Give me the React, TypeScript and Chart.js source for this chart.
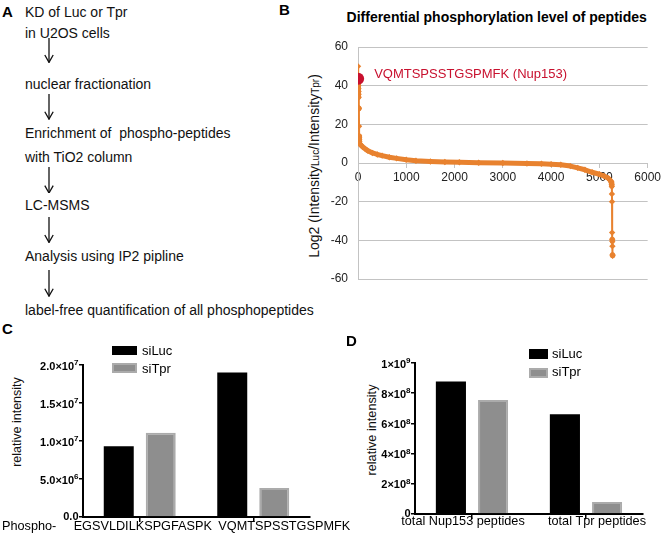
import React, { useEffect, useRef } from 'react';
import { Chart, registerables } from 'chart.js';

Chart.register(...registerables);

const FONT = '"Liberation Sans", Arial, Helvetica, sans-serif';
Chart.defaults.font.family = FONT;

// ---------- Panel A: workflow ----------
const workflowLines = [
  'KD of Luc or Tpr',
  'in U2OS cells',
  'nuclear fractionation',
  'Enrichment of  phospho-peptides',
  'with TiO2 column',
  'LC-MSMS',
  'Analysis using IP2 pipline',
  'label-free quantification of all phosphopeptides',
];

// ---------- Panel B: differential phosphorylation ----------
const bTitle = 'Differential phosphorylation level of peptides';
const peptideRank = [
  1, 3, 5, 7, 9, 11, 13, 15, 17, 19,
  21, 23, 25, 27, 30, 40, 60, 100, 150, 200,
  300, 400, 500, 650, 800, 1000, 1200, 1500, 1800, 2100,
  2500, 3000, 3500, 3800, 4000, 4200, 4400, 4550, 4700, 4850,
  5000, 5100, 5180, 5220, 5245, 5255, 5258, 5260, 5262, 5264,
  5266, 5268, 5270, 5272, 5274,
];
const log2Ratio = [
  50, 43.6, 41, 40, 38.5, 37, 35.5, 34, 28.5, 28,
  19, 14, 13, 12, 11, 10, 9.2, 8.3, 7.3, 6.4,
  5.2, 4.4, 3.8, 3.0, 2.4, 1.7, 1.2, 0.8, 0.5, 0.35,
  0.15, 0, -0.25, -0.4, -0.6, -0.9, -1.6, -2.5, -3.5, -4.8,
  -5.8, -6.8, -7.8, -8.8, -9.8, -11, -12, -16, -20, -36,
  -39.5, -40.5, -43, -47.5, -48,
];
const highlightRank = 3;
const highlightLog2 = 43.6;
const highlightLabel = 'VQMTSPSSTGSPMFK (Nup153)';
const bXTicks = [0, 1000, 2000, 3000, 4000, 5000, 6000];
const bYTicks = [-60, -40, -20, 0, 20, 40, 60];

// ---------- Panels C & D ----------
const seriesNames = ['siLuc', 'siTpr'];

const cPrefix = 'Phospho-';
const cCategories = ['EGSVLDILKSPGFASPK', 'VQMTSPSSTGSPMFK'];
const cSiLuc = [9.3e6, 1.9e7];
const cSiTpr = [1.11e7, 3.8e6];
const cYTicks = [0, 5e6, 1e7, 1.5e7, 2e7];
const cYTickLabels = ['0.0', '5.0×10^6', '1.0×10^7', '1.5×10^7', '2.0×10^7'];

const dCategories = ['total Nup153 peptides', 'total Tpr peptides'];
const dSiLuc = [8.78e8, 6.6e8];
const dSiTpr = [7.55e8, 7.9e7];
const dYTicks = [0, 2e8, 4e8, 6e8, 8e8, 1e9];
const dYTickLabels = ['0', '2×10^8', '4×10^8', '6×10^8', '8×10^8', '1×10^9'];

// ---------- styles ----------
const ORANGE = '#E8822F';
const RED = '#C8102E';
const GRID = '#c3c3c3';
const BLACK_BAR = '#000000';
const GRAY_BAR = '#8e8e8e';
const GRAY_BAR_EDGE = '#ababab';

const highlightLabelPlugin = {
  id: 'highlightLabel',
  afterDatasetsDraw(chart: any) {
    const { x, y } = chart.scales;
    const ctx = chart.ctx;
    ctx.save();
    ctx.font = `13px ${FONT}`;
    ctx.fillStyle = RED;
    ctx.textAlign = 'left';
    ctx.textBaseline = 'middle';
    ctx.fillText(highlightLabel, x.getPixelForValue(highlightRank) + 16, y.getPixelForValue(highlightLog2) - 4);
    ctx.restore();
  },
};

// category labels under bars (with optional prefix at the far left)
const categoryLabelPlugin = {
  id: 'categoryLabels',
  afterDraw(chart: any, _args: any, opts: any) {
    const xs = chart.scales.x;
    const ctx = chart.ctx;
    ctx.save();
    ctx.font = `${opts.size}px ${FONT}`;
    ctx.fillStyle = '#000';
    ctx.textBaseline = 'middle';
    ctx.textAlign = 'center';
    (chart.data.labels as string[]).forEach((lab, i) => {
      ctx.fillText(lab, xs.getPixelForValue(i) + opts.shifts[i], xs.top + opts.dy);
    });
    if (opts.prefix) {
      ctx.textAlign = 'left';
      ctx.fillText(opts.prefix, opts.prefixX, xs.top + opts.dy);
    }
    ctx.restore();
  },
};

// y tick labels with real superscript exponents ("2.0×10^7")
const supTickPlugin = {
  id: 'supTicks',
  afterDraw(chart: any, _args: any, opts: any) {
    const ys = chart.scales.y;
    const ctx = chart.ctx;
    ctx.save();
    ctx.fillStyle = '#000';
    ctx.textAlign = 'right';
    ctx.textBaseline = 'middle';
    const right = ys.right - opts.gap;
    opts.values.forEach((v: number, i: number) => {
      const [base, exp] = String(opts.labels[i]).split('^');
      const py = ys.getPixelForValue(v);
      let x = right;
      if (exp) {
        ctx.font = `bold ${opts.supSize}px ${FONT}`;
        ctx.fillText(exp, x, py - 2);
        x -= ctx.measureText(exp).width;
        ctx.font = `bold ${opts.size}px ${FONT}`;
        ctx.fillText(base, x, py + 1.5);
      } else {
        ctx.font = `bold ${opts.size}px ${FONT}`;
        ctx.fillText(base, x, py);
      }
    });
    ctx.restore();
  },
};

function makeBConfig(): any {
  return {
    type: 'line',
    data: {
      datasets: [
        {
          data: [{ x: highlightRank, y: highlightLog2 }],
          showLine: false,
          pointRadius: 6,
          pointBackgroundColor: RED,
          pointBorderColor: RED,
          pointBorderWidth: 0,
          order: 0,
        },
        {
          data: peptideRank.map((x, i) => ({ x, y: log2Ratio[i] })),
          borderColor: ORANGE,
          backgroundColor: ORANGE,
          borderWidth: 5,
          borderJoinStyle: 'round',
          borderCapStyle: 'round',
          pointStyle: 'rectRot',
          pointRadius: 3.2,
          pointBorderWidth: 0,
          pointBackgroundColor: ORANGE,
          tension: 0,
          segment: {
            borderWidth: (ctx: any) =>
              Math.abs(ctx.p1.parsed.y - ctx.p0.parsed.y) > 1.5 && Math.abs(ctx.p1.parsed.x - ctx.p0.parsed.x) < 30 ? 2 : 5,
          },
          order: 1,
        },
      ],
    },
    plugins: [highlightLabelPlugin],
    options: {
      animation: false,
      responsive: false,
      layout: { padding: { left: 0, top: 47, right: 14, bottom: 21 } },
      plugins: { legend: { display: false }, tooltip: { enabled: false } },
      scales: {
        x: {
          type: 'linear',
          min: 0,
          max: 6000,
          position: { y: 0 },
          afterBuildTicks: (s: any) => { s.ticks = bXTicks.map((v) => ({ value: v })); },
          ticks: { color: '#222', font: { size: 12 }, padding: 3, maxRotation: 0, callback: (v: number) => String(v) },
          grid: { drawOnChartArea: false, drawTicks: true, tickLength: 4, color: GRID },
          border: { color: GRID },
        },
        y: {
          min: -60,
          max: 60,
          afterBuildTicks: (s: any) => { s.ticks = bYTicks.map((v) => ({ value: v })); },
          ticks: { color: '#222', font: { size: 12 }, padding: 10, callback: (v: number) => String(v) },
          grid: { color: GRID, drawTicks: false },
          border: { color: GRID },
          afterFit: (s: any) => { s.width = 68; },
        },
      },
    },
  };
}

function makeBarConfig(
  categories: string[], luc: number[], tpr: number[],
  yTicks: number[], yLabels: string[], yMax: number,
  pad: any, yWidth: number, xHeight: number, catOpts: any,
): any {
  return {
    type: 'bar',
    data: {
      labels: categories,
      datasets: [
        { label: seriesNames[0], data: luc, backgroundColor: BLACK_BAR, borderColor: BLACK_BAR, borderWidth: 0 },
        { label: seriesNames[1], data: tpr, backgroundColor: GRAY_BAR, borderColor: GRAY_BAR_EDGE, borderWidth: 2, borderSkipped: 'bottom' },
      ],
    },
    plugins: [categoryLabelPlugin, supTickPlugin],
    options: {
      animation: false,
      responsive: false,
      datasets: { bar: { categoryPercentage: 0.74, barPercentage: 0.714 } },
      layout: { padding: pad },
      plugins: {
        legend: { display: false },
        tooltip: { enabled: false },
        categoryLabels: catOpts,
        supTicks: { values: yTicks, labels: yLabels, gap: 4.5, size: 11, supSize: 8 },
      },
      scales: {
        x: {
          grid: { offset: false, drawOnChartArea: false, drawTicks: true, tickLength: 5, color: '#000', lineWidth: 1.5 },
          border: { color: '#000', width: 2 },
          ticks: { display: false },
          afterFit: (s: any) => { s.height = xHeight; },
        },
        y: {
          min: 0,
          max: yMax,
          afterBuildTicks: (s: any) => { s.ticks = yTicks.map((v) => ({ value: v })); },
          ticks: { display: false },
          grid: { drawOnChartArea: false, drawTicks: true, tickLength: 4, color: '#000', lineWidth: 1.5 },
          border: { color: '#000', width: 2 },
          afterFit: (s: any) => { s.width = yWidth; },
        },
      },
    },
  };
}

function ChartBox({ left, top, width, height, makeConfig }: any) {
  const ref = useRef<HTMLCanvasElement>(null);
  useEffect(() => {
    const chart = new Chart(ref.current as HTMLCanvasElement, makeConfig());
    return () => chart.destroy();
  }, []);
  return (
    <canvas
      ref={ref}
      width={width}
      height={height}
      style={{ position: 'absolute', left, top, width, height, display: 'block' }}
    />
  );
}

function Text({ x, cy, size = 14, bold = false, color = '#111', children }: any) {
  return (
    <div
      style={{
        position: 'absolute', left: x, top: cy - 8, height: 16, lineHeight: '16px',
        fontSize: size, fontWeight: bold ? 'bold' : 'normal', color, whiteSpace: 'pre',
      }}
    >
      {children}
    </div>
  );
}

function CenterText({ cx, cy, size = 14, bold = false, color = '#111', children }: any) {
  return (
    <div
      style={{
        position: 'absolute', left: cx, top: cy, transform: 'translate(-50%,-50%)', lineHeight: '16px',
        fontSize: size, fontWeight: bold ? 'bold' : 'normal', color, whiteSpace: 'pre',
      }}
    >
      {children}
    </div>
  );
}

function VText({ cx, cy, size, children }: any) {
  return (
    <div
      style={{
        position: 'absolute', left: cx, top: cy, transform: 'translate(-50%,-50%) rotate(-90deg)',
        fontSize: size, lineHeight: '16px', whiteSpace: 'nowrap', color: '#111',
      }}
    >
      {children}
    </div>
  );
}

function Arrow({ x, y1, y2 }: any) {
  const h = y2 - y1;
  return (
    <svg style={{ position: 'absolute', left: x - 6, top: y1 }} width={12} height={h}>
      <line x1={6} y1={0} x2={6} y2={h - 0.5} stroke="#111" strokeWidth={1.3} />
      <polyline points={`1.8,${h - 8} 6,${h - 0.6} 10.2,${h - 8}`} fill="none" stroke="#111" strokeWidth={1.3} />
    </svg>
  );
}

function LegendItem({ x, y, w, h, fill, edge, label, textX, textCy }: any) {
  return (
    <>
      <div
        style={{
          position: 'absolute', left: x, top: y, width: w, height: h, background: fill,
          boxSizing: 'border-box', border: edge ? `2px solid ${edge}` : 'none',
        }}
      />
      <Text x={textX} cy={textCy} size={13} color="#000">{label}</Text>
    </>
  );
}

export default function App() {
  const textCenters = [12.3, 32.8, 84.3, 132.5, 156.7, 204.7, 256.3, 309.5];
  const arrows = [[38.3, 63.3], [94.3, 120], [166.7, 193.3], [216.7, 242.7], [270, 296.7]];
  return (
    <div
      style={{
        position: 'absolute', left: 0, top: 0, width: 664, height: 540, background: '#fff',
        overflow: 'hidden', fontFamily: FONT, color: '#111',
      }}
    >
      {/* Panel A */}
      <Text x={2} cy={12} size={15} bold color="#000">A</Text>
      {workflowLines.map((t, i) => (
        <Text key={i} x={25} cy={textCenters[i]} size={14}>{t}</Text>
      ))}
      {arrows.map(([a, b], i) => <Arrow key={i} x={49.3} y1={a} y2={b} />)}

      {/* Panel B */}
      <Text x={279} cy={9.5} size={15} bold color="#000">B</Text>
      <CenterText cx={496.7} cy={17} size={14} bold color="#000">{bTitle}</CenterText>
      <VText cx={315} cy={166} size={14}>
        Log2 (Intensity<span style={{ fontSize: 10 }}>Luc</span>/Intensity<span style={{ fontSize: 10 }}>Tpr</span>)
      </VText>
      <ChartBox left={290} top={0} width={374} height={300} makeConfig={makeBConfig} />

      {/* Panel C */}
      <Text x={2} cy={329} size={15} bold color="#000">C</Text>
      <VText cx={17} cy={422} size={12.5}>relative intensity</VText>
      <ChartBox
        left={0} top={330} width={362} height={210}
        makeConfig={() => makeBarConfig(
          cCategories, cSiLuc, cSiTpr, cYTicks, cYTickLabels, 2e7,
          { left: 0, top: 35, right: 52, bottom: 0 }, 83, 23,
          { size: 12.7, shifts: [3, 31], dy: 9.5, prefix: cPrefix, prefixX: 2 },
        )}
      />
      <LegendItem x={112} y={346} w={25} h={9} fill={BLACK_BAR} label={seriesNames[0]} textX={142} textCy={350.5} />
      <LegendItem x={112} y={363} w={25} h={10} fill={GRAY_BAR} edge={GRAY_BAR_EDGE} label={seriesNames[1]} textX={142} textCy={369} />

      {/* Panel D */}
      <Text x={346} cy={341} size={15} bold color="#000">D</Text>
      <VText cx={372} cy={430} size={12.7}>relative intensity</VText>
      <ChartBox
        left={330} top={330} width={334} height={210}
        makeConfig={() => makeBarConfig(
          dCategories, dSiLuc, dSiTpr, dYTicks, dYTickLabels, 1e9,
          { left: 0, top: 33, right: 21, bottom: 0 }, 85, 26,
          { size: 12.7, shifts: [-9, 11], dy: 7.7 },
        )}
      />
      <LegendItem x={529} y={349} w={19} h={10} fill={BLACK_BAR} label={seriesNames[0]} textX={552} textCy={354.3} />
      <LegendItem x={529} y={368} w={19} h={10} fill={GRAY_BAR} edge={GRAY_BAR_EDGE} label={seriesNames[1]} textX={552} textCy={372.3} />
    </div>
  );
}
